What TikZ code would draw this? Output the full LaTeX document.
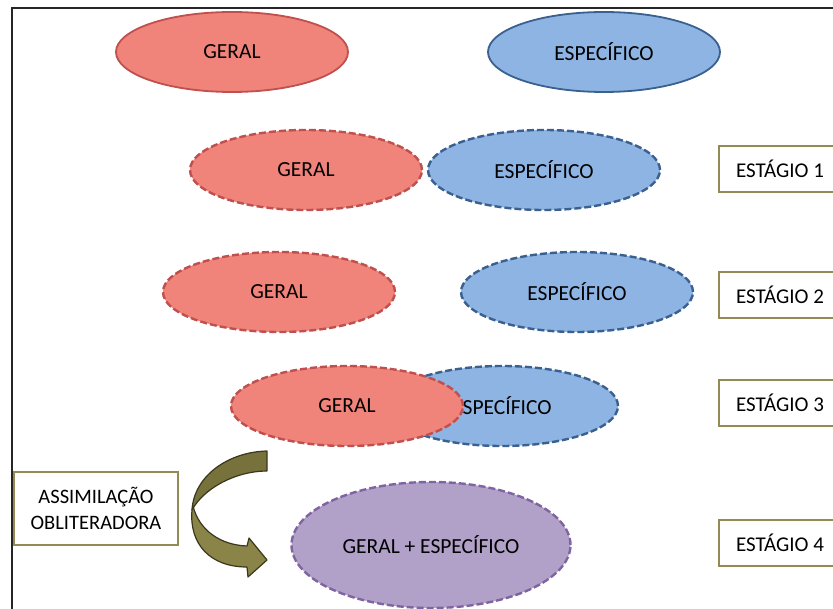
\documentclass[tikz,border=0pt]{standalone}
\usepackage{fontspec}
\setmainfont{Carlito}
\usetikzlibrary{shapes.geometric}

\definecolor{redfill}{HTML}{F0837A}
\definecolor{redline}{HTML}{C0504D}
\definecolor{bluefill}{HTML}{8EB4E3}
\definecolor{blueline}{HTML}{3A6090}
\definecolor{purplefill}{HTML}{B1A0C7}
\definecolor{purpleline}{HTML}{8064A2}
\definecolor{olive}{HTML}{948A54}
\definecolor{arrowfront}{HTML}{8A8449}
\definecolor{arrowback}{HTML}{77713C}
\definecolor{arrowline}{HTML}{3A381C}
\definecolor{frameline}{HTML}{262626}

\tikzset{
  blob/.style={ellipse, inner sep=0pt, minimum width=232pt, minimum height=80pt,
    font=\fontsize{21.5}{24}\selectfont, text=black},
  general/.style={blob, fill=redfill, draw=redline},
  specific/.style={blob, fill=bluefill, draw=blueline},
  solidedge/.style={line width=1.8pt},
  dashedge/.style={line width=2.4pt, dash pattern=on 7pt off 3pt},
  stagebox/.style={rectangle, draw=olive, line width=2.4pt, fill=white,
    minimum width=122pt, minimum height=46pt, inner sep=0pt,
    font=\fontsize{21}{24}\selectfont},
  notebox/.style={rectangle, draw=olive, line width=2.4pt, fill=white,
    minimum width=164pt, minimum height=73pt, inner sep=0pt, align=center,
    font=\fontsize{20.5}{26}\selectfont},
}

\begin{document}
\begin{tikzpicture}[x=1pt, y=-1pt]
  \useasboundingbox (0,0) rectangle (833,609);

  % outer frame (top and left edges)
  \draw[frameline, line width=1.8pt] (12,609) -- (12,8) -- (833,8);

  % starting concepts
  \node[general, solidedge] (g0) at (232,52) {GERAL};
  \node[specific, solidedge] (e0) at (604,52) {ESPECÍFICO};

  % stage 1
  \node[general, dashedge] (g1) at (306,170) {GERAL};
  \node[specific, dashedge] (e1) at (544,170) {ESPECÍFICO};

  % stage 2
  \node[general, dashedge] (g2) at (279,292) {GERAL};
  \node[specific, dashedge] (e2) at (577,292) {ESPECÍFICO};

  % stage 3: the general concept overlaps the specific one
  \node[specific, dashedge] (e3) at (502,406) {ESPECÍFICO};
  \node[general, dashedge] (g3) at (347,406) {GERAL};

  % stage 4: merged concept
  \node[blob, fill=purplefill, draw=purpleline, dashedge,
        minimum width=279pt, minimum height=126pt] (m4) at (431,545) {GERAL + ESPECÍFICO};

  % stage labels
  \node[stagebox] (s1) at (780,169) {ESTÁGIO 1};
  \node[stagebox] (s2) at (780,295) {ESTÁGIO 2};
  \node[stagebox] (s3) at (780,403) {ESTÁGIO 3};
  \node[stagebox] (s4) at (780,543) {ESTÁGIO 4};

  % process label
  \node[notebox] (ao) at (96,508.5) {ASSIMILAÇÃO\\OBLITERADORA};

  % curved ribbon arrow
  \filldraw[fill=arrowback, draw=arrowline, line width=1.2pt, line join=round]
    (267,451) .. controls (228,452) and (194,476) .. (192,510)
    .. controls (204,488) and (236,471) .. (267,471) -- cycle;
  \filldraw[fill=arrowfront, draw=arrowline, line width=1.2pt, line join=round]
    (193,506) .. controls (199,530) and (220,545) .. (247,546)
    -- (249,538) -- (267,560) -- (248,577) -- (247,567)
    .. controls (210,567) and (189,544) .. (192,510) -- cycle;
\end{tikzpicture}
\end{document}
